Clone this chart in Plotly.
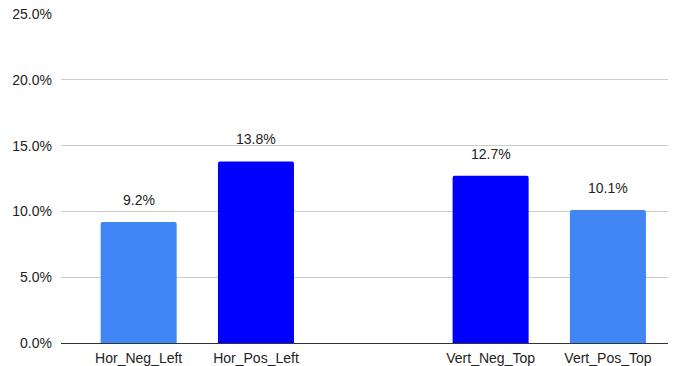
import plotly.graph_objects as go

categories = ["Hor_Neg_Left", "Hor_Pos_Left", "Vert_Neg_Top", "Vert_Pos_Top"]
positions = [0, 1, 3, 4]
values = [9.2, 13.8, 12.7, 10.1]
colors = ["#4285F4", "#0000FF", "#0000FF", "#4285F4"]
y_ticks = [0, 5, 10, 15, 20, 25]
y_labels = ["0.0%", "5.0%", "10.0%", "15.0%", "20.0%", "25.0%"]

FONT = "Liberation Sans, Arial, sans-serif"

fig = go.Figure()
fig.add_trace(go.Bar(
    x=positions, y=values, width=0.648,
    marker=dict(color=colors, line=dict(width=0), cornerradius=2),
    hoverinfo="skip",
))

for xp, v in zip(positions, values):
    fig.add_annotation(x=xp, y=v, text=f"{v:.1f}%", showarrow=False,
                       yanchor="bottom", yshift=12,
                       font=dict(family=FONT, size=14, color="#222222"))

fig.update_layout(
    width=674, height=366,
    margin=dict(l=61, r=6, t=14, b=23, autoexpand=False),
    paper_bgcolor="white", plot_bgcolor="white",
    showlegend=False,
    font=dict(family=FONT, size=14, color="#222222"),
    xaxis=dict(range=[-0.662, 4.512], tickvals=positions, ticktext=categories,
               showgrid=False, zeroline=False, showline=False, ticks="",
               ticklabelstandoff=5,
               automargin=False, tickfont=dict(size=14, color="#222222")),
    yaxis=dict(range=[0, 25], tickvals=y_ticks, ticktext=y_labels,
               showgrid=True, gridcolor="#CCCCCC", gridwidth=1,
               zeroline=True, zerolinecolor="#333333", zerolinewidth=1,
               showline=False, ticks="", ticklabelstandoff=8,
               automargin=False, tickfont=dict(size=14, color="#222222")),
)

fig.write_html("out.html")
